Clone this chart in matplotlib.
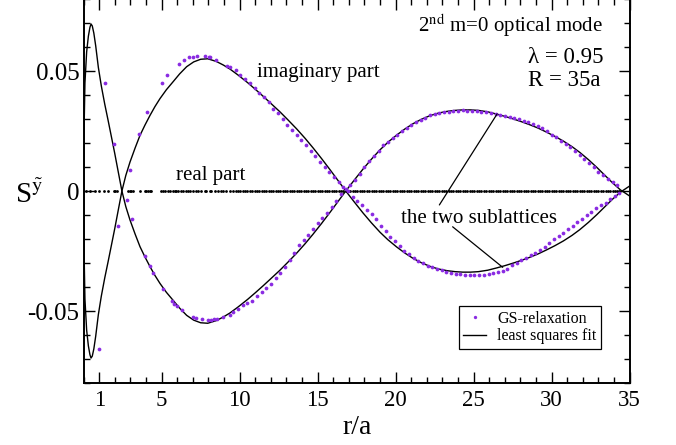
import numpy as np
import matplotlib
matplotlib.use("Agg")
import matplotlib.pyplot as plt
from matplotlib.lines import Line2D

plt.rcParams['font.family'] = ['Liberation Serif', 'DejaVu Serif']
plt.rcParams['mathtext.fontset'] = 'stix'
plt.rcParams['axes.unicode_minus'] = False

# least squares fit, first sublattice (the second one is its mirror image)
fit_r = [0.0, 0.02, 0.08, 0.19, 0.3, 0.4, 0.47, 0.55, 0.65, 0.77, 0.94, 1.13, 1.35, 1.56,
         1.78, 1.99, 2.2, 2.45, 2.7, 2.97, 3.3, 3.61, 3.93, 4.25, 4.57, 4.89, 5.3, 5.74,
         6.15, 6.6, 7.05, 7.5, 7.95, 8.5, 8.95, 9.38, 9.9, 10.5, 11.0, 11.5, 12.0,
         12.58, 13.1, 13.65, 14.2, 14.7, 15.25, 15.8, 16.3, 16.8, 17.35, 17.9, 18.45,
         19.0, 19.5, 20.06, 20.6, 21.1, 21.65, 22.2, 22.75, 23.3, 23.8, 24.3, 24.8,
         25.3, 25.9, 26.5, 27.0, 27.55, 28.1, 28.6, 29.1, 29.65, 30.2, 30.75, 31.3,
         31.8, 32.35, 32.9, 33.4, 33.9, 34.4, 34.7, 35.0]
fit_s = [0.0, 0.024, 0.045, 0.058, 0.0645, 0.0682, 0.0696, 0.0688, 0.0658, 0.0605,
         0.0515, 0.0438, 0.0362, 0.0296, 0.0225, 0.0157, 0.0085, 0.0, -0.0065, -0.0121,
         -0.018, -0.0232, -0.0275, -0.0315, -0.0352, -0.0385, -0.0422, -0.0456, -0.0488,
         -0.0518, -0.0538, -0.0549, -0.0551, -0.054, -0.0525, -0.0508, -0.0483, -0.0452,
         -0.0424, -0.0395, -0.0365, -0.033, -0.0296, -0.0259, -0.0219, -0.018, -0.0135,
         -0.0088, -0.0044, 0.0, 0.0046, 0.0091, 0.0133, 0.0172, 0.0203, 0.0233, 0.0259,
         0.028, 0.0299, 0.0314, 0.0325, 0.0332, 0.0336, 0.0338, 0.0338, 0.0336, 0.033,
         0.032, 0.0311, 0.03, 0.0288, 0.0276, 0.0263, 0.0246, 0.0228, 0.0208, 0.0185,
         0.0161, 0.0131, 0.0098, 0.0066, 0.0034, 0.0005, -0.0008, -0.0021]

# GS-relaxation, sublattice A
a_r = [1.37, 1.96, 2.8, 3.12, 3.94, 4.22, 4.44, 5.06, 5.63, 5.81, 6.0, 6.3, 7.0, 7.21,
       7.6, 7.97, 8.18, 8.35, 8.56, 8.93, 9.36,
       9.6, 9.9, 10.2, 10.5, 10.8, 11.1, 11.4, 11.7, 12.0, 12.3, 12.6, 12.9, 13.2, 13.5,
       13.8, 14.1, 14.4, 14.7, 15.0, 15.3, 15.6, 15.9, 16.2, 16.5, 16.8, 17.1, 17.4,
       17.7, 18.0, 18.3, 18.6, 18.9, 19.2, 19.5, 19.8, 20.1, 20.4, 20.7, 21.0, 21.3,
       21.6, 21.9, 22.2, 22.5, 22.8, 23.1, 23.4, 23.7, 24.0, 24.3, 24.6, 24.9, 25.2,
       25.5, 25.8, 26.1, 26.4, 26.7, 27.0, 27.3, 27.6, 27.9, 28.2, 28.5, 28.8, 29.1,
       29.4, 29.7, 30.0, 30.3, 30.6, 30.9, 31.2, 31.5, 31.8, 32.1, 32.4, 32.7, 33.0,
       33.3, 33.6, 33.9, 34.2]
a_s = [0.0449, 0.0196, -0.0039, -0.0117, -0.0272, -0.0313, -0.034, -0.041, -0.0458,
       -0.0471, -0.0478, -0.0497, -0.0524, -0.0528, -0.0535, -0.0538, -0.0538, -0.0535,
       -0.0532, -0.0526, -0.0517,
       -0.0506, -0.049, -0.0476, -0.0466, -0.0458, -0.0438, -0.042, -0.0404, -0.0388,
       -0.0364, -0.034, -0.0315, -0.0288, -0.0258, -0.0226, -0.0205, -0.0184, -0.016,
       -0.0133, -0.0112, -0.0092, -0.0066, -0.004, -0.0013, 0.0008, 0.0027, 0.0046,
       0.007, 0.0098, 0.0125, 0.0145, 0.0165, 0.0192, 0.0206, 0.0219, 0.0235, 0.025,
       0.0263, 0.0276, 0.0287, 0.0297, 0.0306, 0.0315, 0.032, 0.0325, 0.0328, 0.033,
       0.0333, 0.0334, 0.0336, 0.0335, 0.0335, 0.0333, 0.0331, 0.0328, 0.0323, 0.032,
       0.0317, 0.0313, 0.031, 0.0305, 0.0299, 0.0293, 0.0287, 0.0278, 0.027, 0.0261,
       0.025, 0.0235, 0.0223, 0.021, 0.0197, 0.0182, 0.0168, 0.0152, 0.0132, 0.0115,
       0.0098, 0.008, 0.0066, 0.0051, 0.0037, 0.0023]

# GS-relaxation, sublattice B
b_r = [0.98, 2.22, 2.97, 3.55, 4.09, 4.99, 5.36, 6.08, 6.4, 6.72, 7.0, 7.26, 7.78, 8.03,
       8.08, 8.5, 9.19, 9.36,
       9.75, 10.05, 10.35, 10.65, 10.95, 11.25, 11.55, 11.85, 12.15, 12.45, 12.75, 13.05,
       13.35, 13.65, 13.95, 14.25, 14.55, 14.85, 15.15, 15.45, 15.75, 16.05, 16.35,
       16.65, 16.95, 17.25, 17.55, 17.85, 18.15, 18.45, 18.75, 19.05, 19.35, 19.65,
       19.95, 20.25, 20.55, 20.85, 21.15, 21.45, 21.75, 22.05, 22.35, 22.65, 22.95,
       23.25, 23.55, 23.85, 24.15, 24.45, 24.75, 25.05, 25.35, 25.65, 25.95, 26.25,
       26.55, 26.85, 27.15, 27.45, 27.75, 28.05, 28.35, 28.65, 28.95, 29.25, 29.55,
       29.85, 30.15, 30.45, 30.75, 31.05, 31.35, 31.65, 31.95, 32.25, 32.55, 32.85,
       33.15, 33.45, 33.75, 34.05, 34.3]
b_s = [-0.0658, -0.0145, 0.0088, 0.0237, 0.0328, 0.0449, 0.0485, 0.0529, 0.0546, 0.0557,
       0.056, 0.0563, 0.0564, 0.056, 0.0557, 0.0546, 0.052, 0.0515,
       0.0505, 0.0483, 0.0468, 0.045, 0.043, 0.041, 0.039, 0.037, 0.0342, 0.0325, 0.03,
       0.0276, 0.0255, 0.0234, 0.0213, 0.0192, 0.0168, 0.0145, 0.0122, 0.0098, 0.0078,
       0.0058, 0.0038, 0.0018, -0.0002, -0.0025, -0.004, -0.006, -0.0078, -0.0096,
       -0.0117, -0.0145, -0.0168, -0.019, -0.021, -0.023, -0.0248, -0.0263, -0.028,
       -0.0291, -0.0301, -0.0311, -0.0318, -0.0325, -0.0331, -0.0336, -0.034, -0.0344,
       -0.0346, -0.0348, -0.035, -0.0351, -0.0351, -0.0349, -0.0347, -0.0343, -0.0338,
       -0.0332, -0.0323, -0.031, -0.0298, -0.0287, -0.0278, -0.0268, -0.0259, -0.0246,
       -0.0232, -0.0215, -0.02, -0.0189, -0.0175, -0.016, -0.0146, -0.0131, -0.0116,
       -0.0101, -0.0086, -0.0072, -0.006, -0.005, -0.0035, -0.0019, -0.0008]

# real part, sites near the centre (further out it sits on every site above)
real_r_core = [0.13, 0.38, 0.7, 0.96, 1.28, 1.56, 1.92, 2.03, 2.16, 2.84, 2.95, 3.05,
               3.16, 3.59, 3.91, 4.02, 4.12, 4.23, 4.33, 4.98, 5.08, 5.19, 5.4, 5.51,
               5.72, 5.83, 5.94, 6.04, 6.26, 6.37, 6.58, 6.69, 6.79, 7.01, 7.22, 7.33,
               7.54, 7.76, 7.86, 8.08, 8.18, 8.4, 8.61, 8.82, 8.93, 9.14, 9.36]

x_ticks = [1, 5, 10, 15, 20, 25, 30, 35]
y_ticks = [-0.05, 0, 0.05]
y_ticklabels = ['-0.05', '0', '0.05']

purple = '#8a2be2'

fig = plt.figure(figsize=(6.76, 4.45), dpi=100)
ax = fig.add_axes([0.1238, 0.1393, 0.8077, 0.8629])

ax.plot(fit_r, fit_s, color='black', lw=1.0, zorder=2)
ax.plot(fit_r, [-v for v in fit_s], color='black', lw=1.0, zorder=2)

real_r = real_r_core + [r for r in a_r if r > 9.4] + [r for r in b_r if r > 9.4]
ax.plot(real_r, np.zeros(len(real_r)), ls='none', marker='o', ms=2.0,
        color='black', mew=0, zorder=3)
ax.plot(a_r, a_s, ls='none', marker='o', ms=2.7, color=purple, mew=0, zorder=3)
ax.plot(b_r, b_s, ls='none', marker='o', ms=2.7, color=purple, mew=0, zorder=3)

ax.set_xlim(0, 35)
ax.set_ylim(-0.08, 0.08)
ax.set_xticks(x_ticks)
ax.set_xticks(np.arange(0, 36), minor=True)
ax.set_yticks(y_ticks, labels=y_ticklabels)
ax.set_yticks(np.arange(-0.08, 0.081, 0.01), minor=True)
ax.tick_params(which='both', direction='in', top=True, right=True, width=1.0)
ax.tick_params(which='major', length=7.7)
ax.tick_params(which='minor', length=4.3)
ax.tick_params(axis='x', pad=5, labelsize=16.5)
ax.tick_params(axis='y', pad=3, labelsize=18)
for sp in ax.spines.values():
    sp.set_linewidth(1.4)

ax.set_xlabel('r/a', fontsize=20, labelpad=3)
fig.text(15 / 676, 1 - 203 / 445, r'S$^{\tilde{\mathrm{y}}}$', fontsize=21,
         ha='left', va='baseline')

ax.text(33.3, 0.0664, r'2$^{\mathrm{nd}}$ m=0 optical mode', fontsize=15,
        ha='right', va='baseline')
ax.text(28.5, 0.0532, 'λ = 0.95', fontsize=16.5, ha='left', va='baseline')
ax.text(28.5, 0.04375, 'R = 35a', fontsize=16.5, ha='left', va='baseline')
ax.text(11.09, 0.0476, 'imaginary part', fontsize=15, ha='left', va='baseline')
ax.text(5.94, 0.0046, 'real part', fontsize=15, ha='left', va='baseline')
ax.text(20.32, -0.0135, 'the two sublattices', fontsize=15, ha='left', va='baseline')

ax.annotate('', xy=(26.5, 0.0321), xytext=(22.8, -0.0058),
            arrowprops=dict(arrowstyle='-', lw=0.9, color='black', shrinkA=0, shrinkB=0))
ax.annotate('', xy=(26.86, -0.0318), xytext=(23.65, -0.0149),
            arrowprops=dict(arrowstyle='-', lw=0.9, color='black', shrinkA=0, shrinkB=0))

handles = [Line2D([], [], ls='none', marker='o', ms=2.4, color=purple, mew=0),
           Line2D([], [], color='black', lw=1.0)]
leg = ax.legend(handles, ['GS-relaxation', 'least squares fit'], loc='upper right',
                bbox_to_anchor=(0.9474, 0.2013), borderaxespad=0, fontsize=11.5,
                fancybox=False, framealpha=1, edgecolor='black', handlelength=1.4,
                handletextpad=0.7, borderpad=0.3, labelspacing=0.1)
leg.get_frame().set_linewidth(0.9)

fig.savefig('out.png', dpi=100)
